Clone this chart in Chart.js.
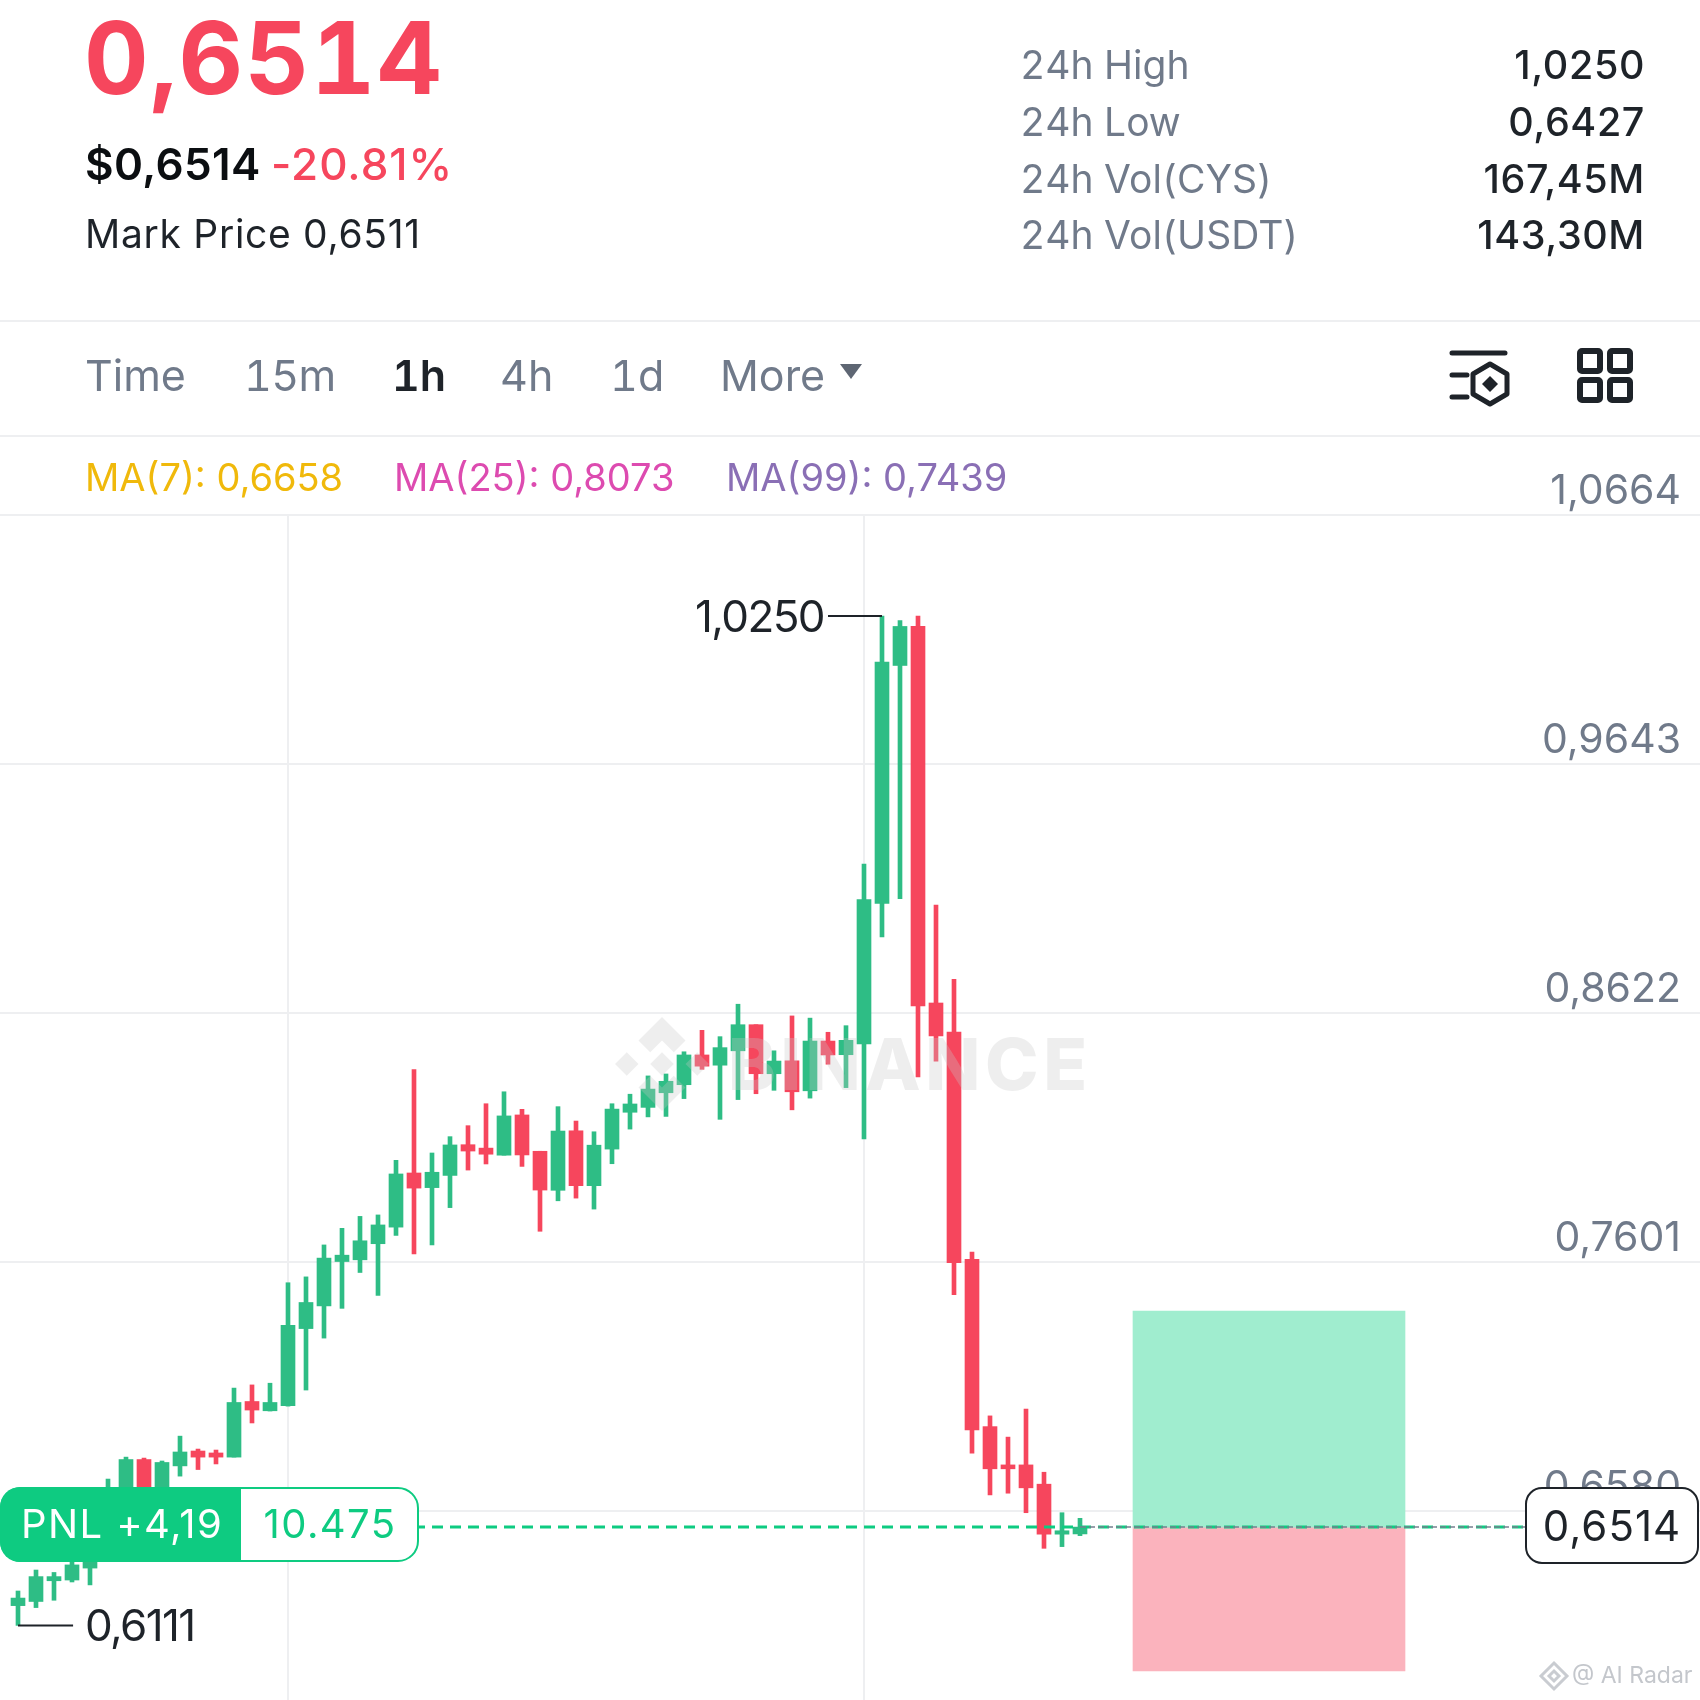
<!DOCTYPE html>
<html>
<head>
<meta charset="utf-8">
<title>CYS/USDT</title>
<script src="https://cdn.jsdelivr.net/npm/chart.js@4"></script>
<style>
    html, body { margin: 0; padding: 0; background: #fff; }
    #page { position: relative; width: 1700px; height: 1700px; overflow: hidden; font-family: Inter, sans-serif; }
    #chartBox { position: absolute; left: 0; top: 0; width: 1700px; height: 1700px; }
    .t { position: absolute; line-height: 1; white-space: nowrap; }
    .grey { color: #707A8A; }
    .rule { position: absolute; left: 0; width: 1700px; height: 2px; background: #EEEFF1; }
    .stat { font-size: 39px; font-variant-numeric: tabular-nums; }
    .val { font-size: 39.5px; font-weight: 500; letter-spacing: 0.6px; color: #1E2329; right: 55px; }
    .tab { font-size: 43px; top: 354px; color: #707A8A; font-variant-numeric: tabular-nums; }
    .ma { font-size: 38px; top: 458px; }
    svg { position: absolute; }
</style>
</head>
<body>
<div id="page">
    <div id="chartBox"><canvas id="klineChart"></canvas></div>

    <div class="t" style="left:84px;top:8px;font-size:100px;font-weight:700;letter-spacing:1.5px;font-variant-numeric:tabular-nums;color:#F6465D;">0,6514</div>
    <div class="t" style="left:85px;top:142px;font-size:44px;font-weight:600;letter-spacing:0.4px;color:#0B0E11;">$0,6514</div>
    <div class="t" style="left:271px;top:142px;font-size:44px;font-weight:500;letter-spacing:1px;color:#F6465D;">-20.81%</div>
    <div class="t" style="left:85px;top:214px;font-size:39px;letter-spacing:0.7px;color:#1E2329;">Mark Price 0,6511</div>

    <div class="t stat grey" style="left:1020px;top:45px;">24h High</div>
    <div class="t stat grey" style="left:1020px;top:102px;">24h Low</div>
    <div class="t stat grey" style="left:1020px;top:159px;">24h Vol(CYS)</div>
    <div class="t stat grey" style="left:1020px;top:215px;">24h Vol(USDT)</div>
    <div class="t val" style="top:46px;">1,0250</div>
    <div class="t val" style="top:103px;">0,6427</div>
    <div class="t val" style="top:160px;">167,45M</div>
    <div class="t val" style="top:216px;">143,30M</div>

    <div class="rule" style="top:320px;"></div>
    <div class="t tab" style="left:85px;">Time</div>
    <div class="t tab" style="left:244px;letter-spacing:-0.6px;">15m</div>
    <div class="t tab" style="left:392px;color:#1E2329;font-weight:600;">1h</div>
    <div class="t tab" style="left:500px;">4h</div>
    <div class="t tab" style="left:610px;">1d</div>
    <div class="t tab" style="left:720px;">More</div>
    <svg style="left:838px;top:362px;" width="26" height="20"><path d="M2 2H24L13 17Z" fill="#5E6673"/></svg>

    <svg style="left:1445px;top:345px;" width="70" height="70" fill="none" stroke="#1E2329" stroke-width="5" stroke-linecap="round">
        <path d="M7 8H60M7 30H22M7 52H22"/>
        <path d="M45 19L62 29V49L45 59L28 49V29Z" stroke-linejoin="round"/>
        <path d="M45 31L53 39L45 47L37 39Z" fill="#1E2329" stroke="none"/>
    </svg>
    <svg style="left:1574px;top:345px;" width="62" height="60" fill="none" stroke="#1E2329" stroke-width="6">
        <rect x="6" y="6" width="20" height="20" rx="2"/>
        <rect x="36" y="6" width="20" height="20" rx="2"/>
        <rect x="6" y="35" width="20" height="20" rx="2"/>
        <rect x="36" y="35" width="20" height="20" rx="2"/>
    </svg>

    <div class="rule" style="top:435px;"></div>
    <div class="t ma" style="left:85px;color:#F0B90B;">MA(7): 0,6658</div>
    <div class="t ma" style="left:394px;color:#DD4BB0;">MA(25): 0,8073</div>
    <div class="t ma" style="left:726px;color:#8A6FB5;">MA(99): 0,7439</div>

    <svg style="left:1538px;top:1660px;" width="32" height="32" fill="none" stroke="#C9CCD1" stroke-width="3">
        <path d="M16 3L29 16L16 29L3 16Z"/><path d="M16 11L21 16L16 21L11 16Z"/>
    </svg>
    <div class="t" style="left:1572px;top:1664px;font-size:23px;color:#C4C7CC;">@ AI Radar</div>
</div>

<script>
// hourly candles, oldest first
const opens  = [0.6192,0.6209,0.6294,0.6297,0.6346,0.6502,0.6584,0.6791,0.6625,0.6765,0.6826,0.6818,0.6801,0.7029,0.6991,0.7012,0.7328,0.7421,0.7603,0.7610,0.7676,0.7744,0.7966,0.7906,0.7956,0.8082,0.8068,0.8039,0.8204,0.8055,0.7895,0.8139,0.7914,0.8064,0.8215,0.8235,0.8295,0.8328,0.8450,0.8408,0.8467,0.8574,0.8373,0.8426,0.8303,0.8507,0.8451,0.8495,0.9071,1.0047,1.0207,0.8663,0.8544,0.7612,0.6926,0.6769,0.6769,0.6690,0.6485,0.6486];
const highs  = [0.6252,0.6338,0.6328,0.6395,0.6461,0.6711,0.6801,0.6797,0.6785,0.6887,0.6834,0.6830,0.7084,0.7097,0.7104,0.7516,0.7540,0.7671,0.7739,0.7788,0.7794,0.8018,0.8390,0.8048,0.8115,0.8160,0.8250,0.8299,0.8227,0.8055,0.8238,0.8179,0.8135,0.8250,0.8289,0.8364,0.8372,0.8463,0.8551,0.8525,0.8658,0.8574,0.8467,0.8610,0.8601,0.8543,0.8570,0.9233,1.0250,1.0231,1.0250,0.9065,0.8760,0.7642,0.6970,0.6883,0.6998,0.6739,0.6573,0.6550];
const lows   = [0.6111,0.6184,0.6214,0.6289,0.6277,0.6461,0.6543,0.6543,0.6584,0.6723,0.6750,0.6773,0.6801,0.6941,0.6990,0.7010,0.7076,0.7289,0.7411,0.7558,0.7464,0.7710,0.7634,0.7671,0.7824,0.7978,0.8003,0.8039,0.7993,0.7727,0.7852,0.7863,0.7818,0.8004,0.8146,0.8196,0.8198,0.8271,0.8391,0.8186,0.8267,0.8291,0.8305,0.8225,0.8273,0.8412,0.8316,0.8106,0.8934,0.9091,0.8360,0.8425,0.7467,0.6817,0.6646,0.6653,0.6573,0.6427,0.6434,0.6479];
const closes = [0.6223,0.6311,0.6311,0.6359,0.6412,0.6625,0.6791,0.6584,0.6779,0.6822,0.6801,0.6801,0.7025,0.6994,0.7025,0.7341,0.7435,0.7617,0.7629,0.7688,0.7753,0.7962,0.7904,0.7969,0.8081,0.8056,0.8043,0.8200,0.8040,0.7896,0.8138,0.7914,0.8080,0.8228,0.8249,0.8310,0.8342,0.8450,0.8404,0.8480,0.8574,0.8373,0.8425,0.8299,0.8507,0.8450,0.8510,0.9087,1.0061,1.0207,0.8651,0.8528,0.7598,0.6912,0.6753,0.6753,0.6675,0.6485,0.6499,0.6514];

const priceTicks = [1.0664,0.9643,0.8622,0.7601,0.6580];
const timeTicks  = [16,48];

const lastPrice  = 0.6514;
const highPrice  = 1.0250;
const lowPrice   = 0.6111;
const takeProfit = 0.7400;
const stopLoss   = 0.5924;

const pnlText   = "PNL +4,19";
const qtyText   = "10.475";

const upColor   = "#2EBD85";
const downColor = "#F6465D";

const slots = opens.map((_, i) => i + 1);
const candleColors = slots.map((_, i) => closes[i] >= opens[i] ? upColor : downColor);

function comma(v) { return v.toFixed(4).replace(".", ","); }

function roundBox(ctx, x, y, w, h, r) {
    ctx.beginPath();
    ctx.roundRect(x, y, w, h, r);
}

// watermark goes over the candles, the labels go over everything
const overlays = {
    id: "overlays",
    afterDatasetsDraw(chart) {
        const ctx = chart.ctx;
        const sx = chart.scales.x, sy = chart.scales.y;
        ctx.save();

        // BINANCE watermark
        ctx.fillStyle = "rgba(200,200,200,0.3)";
        const cx = 662, cy = 1064, R = 47;
        const shapes = [
            [[0,-1],[.5,-.5],[.25,-.25],[0,-.5],[-.25,-.25],[-.5,-.5]],
            [[0,1],[.5,.5],[.25,.25],[0,.5],[-.25,.25],[-.5,.5]],
            [[0,-.25],[.25,0],[0,.25],[-.25,0]],
            [[-.75,-.25],[-.5,0],[-.75,.25],[-1,0]],
            [[.75,-.25],[1,0],[.75,.25],[.5,0]]
        ];
        shapes.forEach(s => {
            ctx.beginPath();
            s.forEach((p, i) => i ? ctx.lineTo(cx + p[0]*R, cy + p[1]*R) : ctx.moveTo(cx + p[0]*R, cy + p[1]*R));
            ctx.closePath();
            ctx.fill();
        });
        ctx.font = "800 72px Inter";
        ctx.letterSpacing = "4.6px";
        ctx.textAlign = "left";
        ctx.textBaseline = "alphabetic";
        ctx.fillText("BINANCE", 728, 1090);
        ctx.letterSpacing = "0px";

        // high and low labels
        ctx.fillStyle = "#1E2329";
        ctx.font = "44px Inter";
        ctx.letterSpacing = "-1.6px";
        ctx.textBaseline = "middle";
        ctx.textAlign = "right";
        ctx.fillText(comma(highPrice), sx.getPixelForValue(46) - 4, sy.getPixelForValue(highPrice) + 3);
        ctx.textAlign = "left";
        ctx.fillText(comma(lowPrice), 85, sy.getPixelForValue(lowPrice) + 2);
        ctx.letterSpacing = "0px";

        // PNL tag
        const tagTop = 1487, tagH = 75;
        roundBox(ctx, 1, tagTop + 1, 417, tagH - 2, 20);
        ctx.fillStyle = "#fff";
        ctx.fill();
        ctx.lineWidth = 2;
        ctx.strokeStyle = "#0ECB81";
        ctx.stroke();
        roundBox(ctx, 0, tagTop, 241, tagH, [20, 0, 0, 20]);
        ctx.fillStyle = "#0ECB81";
        ctx.fill();
        ctx.font = "40px Inter";
        ctx.letterSpacing = "1.4px";
        ctx.fillStyle = "#fff";
        ctx.textAlign = "left";
        ctx.fillText(pnlText, 21, tagTop + tagH / 2 + 1);
        ctx.fillStyle = "#0ECB81";
        ctx.textAlign = "center";
        ctx.fillText(qtyText, 330, tagTop + tagH / 2 + 1);
        ctx.letterSpacing = "0px";

        // last price tag
        roundBox(ctx, 1526, 1488, 172, 75, 16);
        ctx.fillStyle = "#fff";
        ctx.fill();
        ctx.strokeStyle = "#1E2329";
        ctx.lineWidth = 2;
        ctx.stroke();
        ctx.fillStyle = "#1E2329";
        ctx.font = "42px Inter";
        ctx.letterSpacing = "1px";
        ctx.textAlign = "center";
        ctx.fillText(comma(lastPrice), 1612, sy.getPixelForValue(lastPrice) + 1);
        ctx.letterSpacing = "0px";

        ctx.restore();
    }
};

new Chart(document.getElementById("klineChart"), {
    type: "bar",
    plugins: [overlays],
    data: {
        datasets: [
            // entry / target box
            { data: [{ x: 70.5, y: [lastPrice, takeProfit] }], backgroundColor: "#A0EDCF", barThickness: 272, grouped: false, order: 9 },
            { data: [{ x: 70.5, y: [stopLoss, lastPrice] }], backgroundColor: "#FBB3BD", barThickness: 272, grouped: false, order: 9 },
            // wicks
            { data: slots.map((x, i) => ({ x, y: [lows[i], highs[i]] })), backgroundColor: candleColors, barThickness: 4, grouped: false, order: 8 },
            // bodies
            { data: slots.map((x, i) => ({ x, y: [opens[i], closes[i]] })), backgroundColor: candleColors, barThickness: 14, grouped: false, order: 7, minBarLength: 3 },
            // high / low leaders
            { type: "line", data: [{ x: 46, y: highPrice }, { x: 49, y: highPrice }], borderColor: "#1E2329", borderWidth: 2, pointRadius: 0, order: 6 },
            { type: "line", data: [{ x: 1, y: lowPrice }, { x: 4.06, y: lowPrice }], borderColor: "#1E2329", borderWidth: 2, pointRadius: 0, order: 6 },
            // position line and last price line
            { type: "line", data: [{ x: 23, y: lastPrice }, { x: 85, y: lastPrice }], borderColor: "#0ECB81", borderWidth: 3, borderDash: [11, 7], pointRadius: 0, order: 5 },
            { type: "line", data: [{ x: 60, y: lastPrice }, { x: 85, y: lastPrice }], borderColor: "#76808F", borderWidth: 1.5, borderDash: [6, 3], pointRadius: 0, order: 4 }
        ]
    },
    options: {
        responsive: true,
        maintainAspectRatio: false,
        devicePixelRatio: 1,
        animation: false,
        layout: { padding: { top: 515, left: 0, right: 0, bottom: 0 } },
        plugins: { legend: { display: false }, tooltip: { enabled: false } },
        scales: {
            x: {
                type: "linear",
                offset: false,
                min: 0,
                max: 1700 / 18,
                afterBuildTicks: s => { s.ticks = timeTicks.map(value => ({ value })); },
                afterFit: s => { s.height = 0; },
                ticks: { display: false },
                border: { display: false },
                grid: { color: "#EEEFF1", lineWidth: 2, drawTicks: false, offset: false }
            },
            y: {
                position: "right",
                min: 1.0664 - 1185 / 2438.8,
                max: 1.0664,
                afterBuildTicks: s => { s.ticks = priceTicks.map(value => ({ value })); },
                afterFit: s => { s.width = 0; s.paddingTop = 0; s.paddingBottom = 0; },
                ticks: {
                    mirror: true,
                    padding: -19,
                    labelOffset: -23,
                    color: "#707A8A",
                    font: { family: "Inter", size: 41 },
                    callback: v => comma(v)
                },
                border: { display: false },
                grid: { color: "#EEEFF1", lineWidth: 2, drawTicks: false }
            }
        }
    }
});
</script>
</body>
</html>
